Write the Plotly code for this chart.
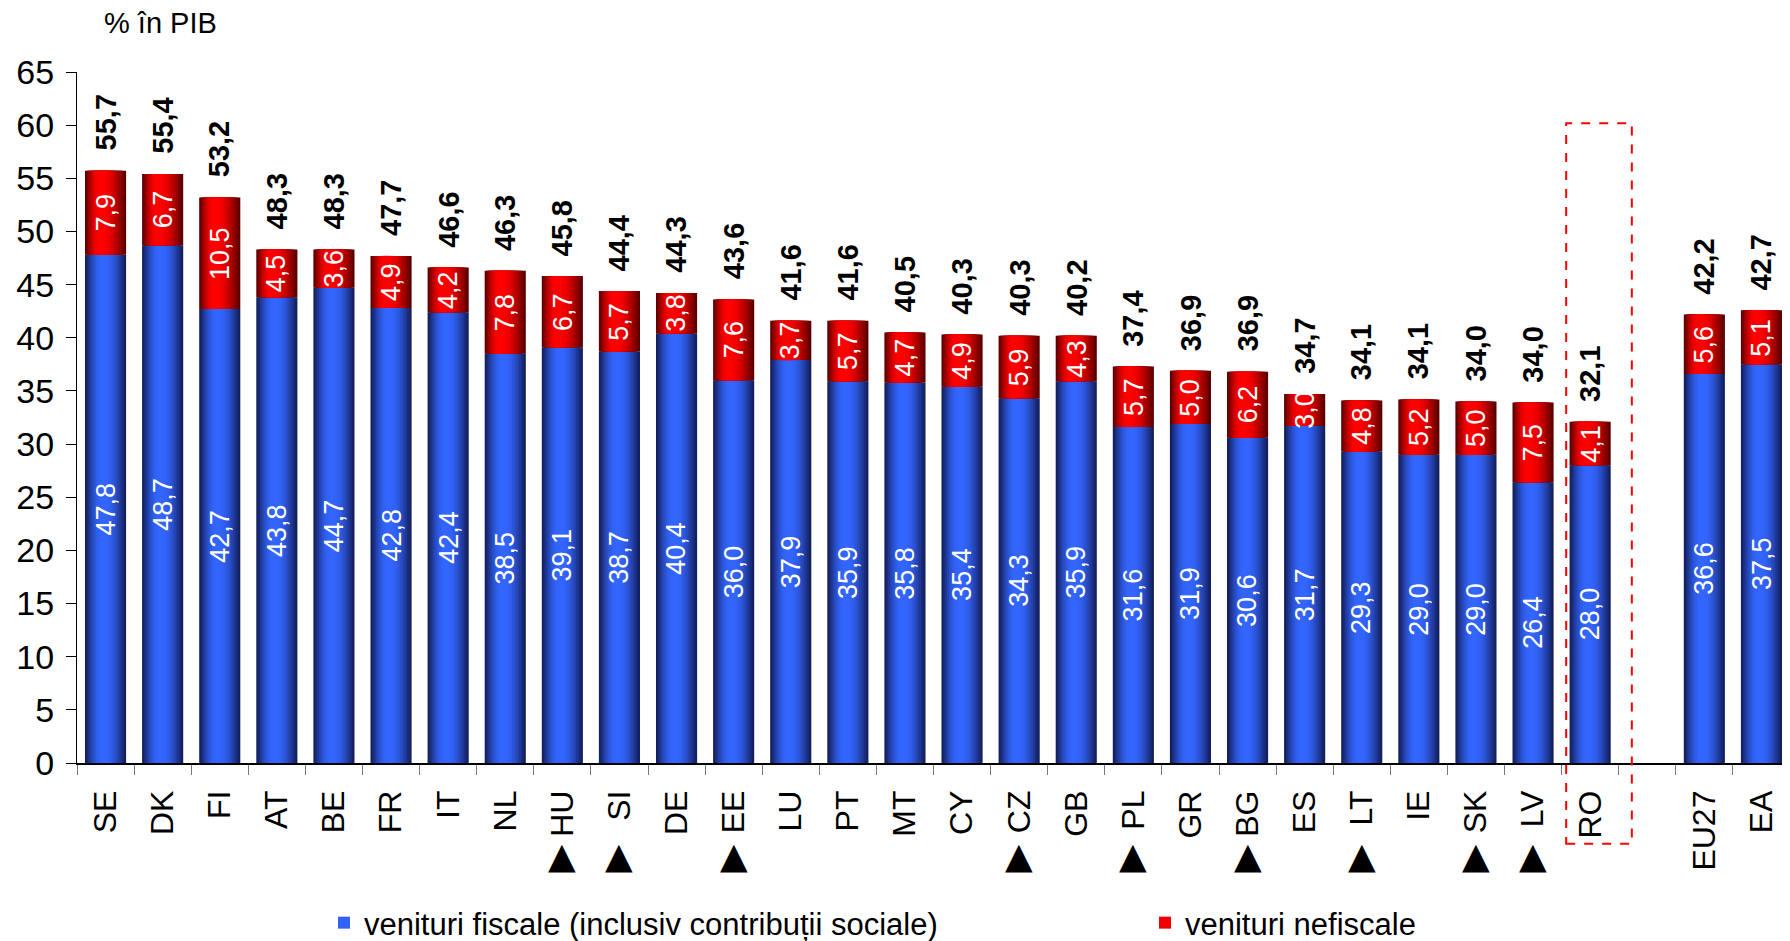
import math

import plotly.graph_objects as go

# Venituri bugetare, % in PIB
countries = ["SE", "DK", "FI", "AT", "BE", "FR", "IT", "NL", "HU", "SI",
             "DE", "EE", "LU", "PT", "MT", "CY", "CZ", "GB", "PL", "GR",
             "BG", "ES", "LT", "IE", "SK", "LV", "RO", "EU27", "EA"]
fiscal = [47.8, 48.7, 42.7, 43.8, 44.7, 42.8, 42.4, 38.5, 39.1, 38.7,
          40.4, 36.0, 37.9, 35.9, 35.8, 35.4, 34.3, 35.9, 31.6, 31.9,
          30.6, 31.7, 29.3, 29.0, 29.0, 26.4, 28.0, 36.6, 37.5]
nonfiscal = [7.9, 6.7, 10.5, 4.5, 3.6, 4.9, 4.2, 7.8, 6.7, 5.7,
             3.8, 7.6, 3.7, 5.7, 4.7, 4.9, 5.9, 4.3, 5.7, 5.0,
             6.2, 3.0, 4.8, 5.2, 5.0, 7.5, 4.1, 5.6, 5.1]
total = [55.7, 55.4, 53.2, 48.3, 48.3, 47.7, 46.6, 46.3, 45.8, 44.4,
         44.3, 43.6, 41.6, 41.6, 40.5, 40.3, 40.3, 40.2, 37.4, 36.9,
         36.9, 34.7, 34.1, 34.1, 34.0, 34.0, 32.1, 42.2, 42.7]
marked = ["HU", "SI", "EE", "CZ", "PL", "BG", "LT", "SK", "LV"]

# axis order, with an empty slot between RO and the aggregates
categories = countries[:27] + [" "] + countries[27:]

FONT = "Arial, Liberation Sans, sans-serif"
BAR_W = 0.72
LEVELS = 10
# the page body keeps its default 8px margin, so the figure is 8px smaller
W, H = 1782, 933


def fmt(v):
    return f"{v:.1f}".replace(".", ",")


def mix(dark, bright, t):
    return "rgb({},{},{})".format(*[round(d + (b - d) * t) for d, b in zip(dark, bright)])


fig = go.Figure()

# "cylinder" look: nested bars, widest/darkest first, narrowest/brightest on top
series = [
    ("venituri fiscale (inclusiv contribuții sociale)", fiscal, None,
     (20, 32, 95), (51, 102, 255), -0.05, "legend"),
    ("venituri nefiscale", nonfiscal, fiscal,
     (95, 0, 0), (255, 0, 0), -0.12, "legend2"),
]
for name, vals, base, dark, bright, shift, leg in series:
    for k in range(LEVELS):
        frac = 1 - k / LEVELS
        w = BAR_W * frac
        center = shift * BAR_W * k / (LEVELS - 1)
        t = math.sin(math.pi / 2 * k / (LEVELS - 1))
        fig.add_trace(go.Bar(
            x=countries, y=vals, base=base,
            width=w, offset=center - w / 2,
            marker=dict(color=mix(dark, bright, t), line=dict(width=0)),
            name=name, legendgroup=name, legend=leg,
            showlegend=(k == LEVELS - 3),
            hoverinfo="skip" if k else "x+y",
        ))

annotations = []
for c, f, n, tot in zip(countries, fiscal, nonfiscal, total):
    annotations.append(dict(x=c, y=f / 2, text=fmt(f), textangle=-90,
                            font=dict(size=27, color="white"), showarrow=False))
    annotations.append(dict(x=c, y=f + n / 2, text=fmt(n), textangle=-90,
                            font=dict(size=27, color="white"), showarrow=False))
    annotations.append(dict(x=c, y=f + n, text=f"<b>{fmt(tot)}</b>", textangle=-90,
                            yanchor="bottom", yshift=18,
                            font=dict(size=29, color="black"), showarrow=False))
for c in marked:
    annotations.append(dict(x=c, yref="paper", y=-0.166, text="▲",
                            font=dict(size=36, color="black", family="DejaVu Sans"),
                            showarrow=False))
annotations.append(dict(xref="paper", yref="paper", x=0.0146, y=1.071,
                        xanchor="left", yanchor="middle", text="% în PIB",
                        font=dict(size=29, color="black"), showarrow=False))

legend_style = dict(orientation="h", xref="container", yref="container",
                    y=18 / H, yanchor="middle", xanchor="left",
                    font=dict(size=31), bgcolor="rgba(0,0,0,0)")

fig.update_layout(
    width=W, height=H,
    barmode="overlay",
    font=dict(family=FONT, color="black"),
    plot_bgcolor="white", paper_bgcolor="white",
    margin=dict(l=69, r=0, t=64, b=178, autoexpand=False),
    annotations=annotations,
    shapes=[dict(type="rect", xref="x", yref="paper",
                 x0=25.58, x1=26.73, y0=-0.117, y1=0.926,
                 line=dict(color="red", width=2, dash="dash"))],
    legend=dict(x=316 / W, **legend_style),
    legend2=dict(x=1137 / W, **legend_style),
    showlegend=True,
)
fig.update_xaxes(
    type="category", categoryorder="array", categoryarray=categories,
    range=[-0.5, len(categories) - 0.5], automargin=False,
    tickangle=-90, tickfont=dict(size=32),
    ticks="outside", tickson="boundaries", ticklen=10, tickcolor="#777",
    ticklabelstandoff=13,
    showline=True, linecolor="black", linewidth=1.5, showgrid=False,
)
fig.update_yaxes(
    range=[0, 65], dtick=5, tickfont=dict(size=34), automargin=False,
    ticks="outside", ticklen=10, tickcolor="black", ticklabelstandoff=5,
    showline=True, linecolor="black", linewidth=1, showgrid=False, zeroline=False,
)

fig.write_html("out.html")
